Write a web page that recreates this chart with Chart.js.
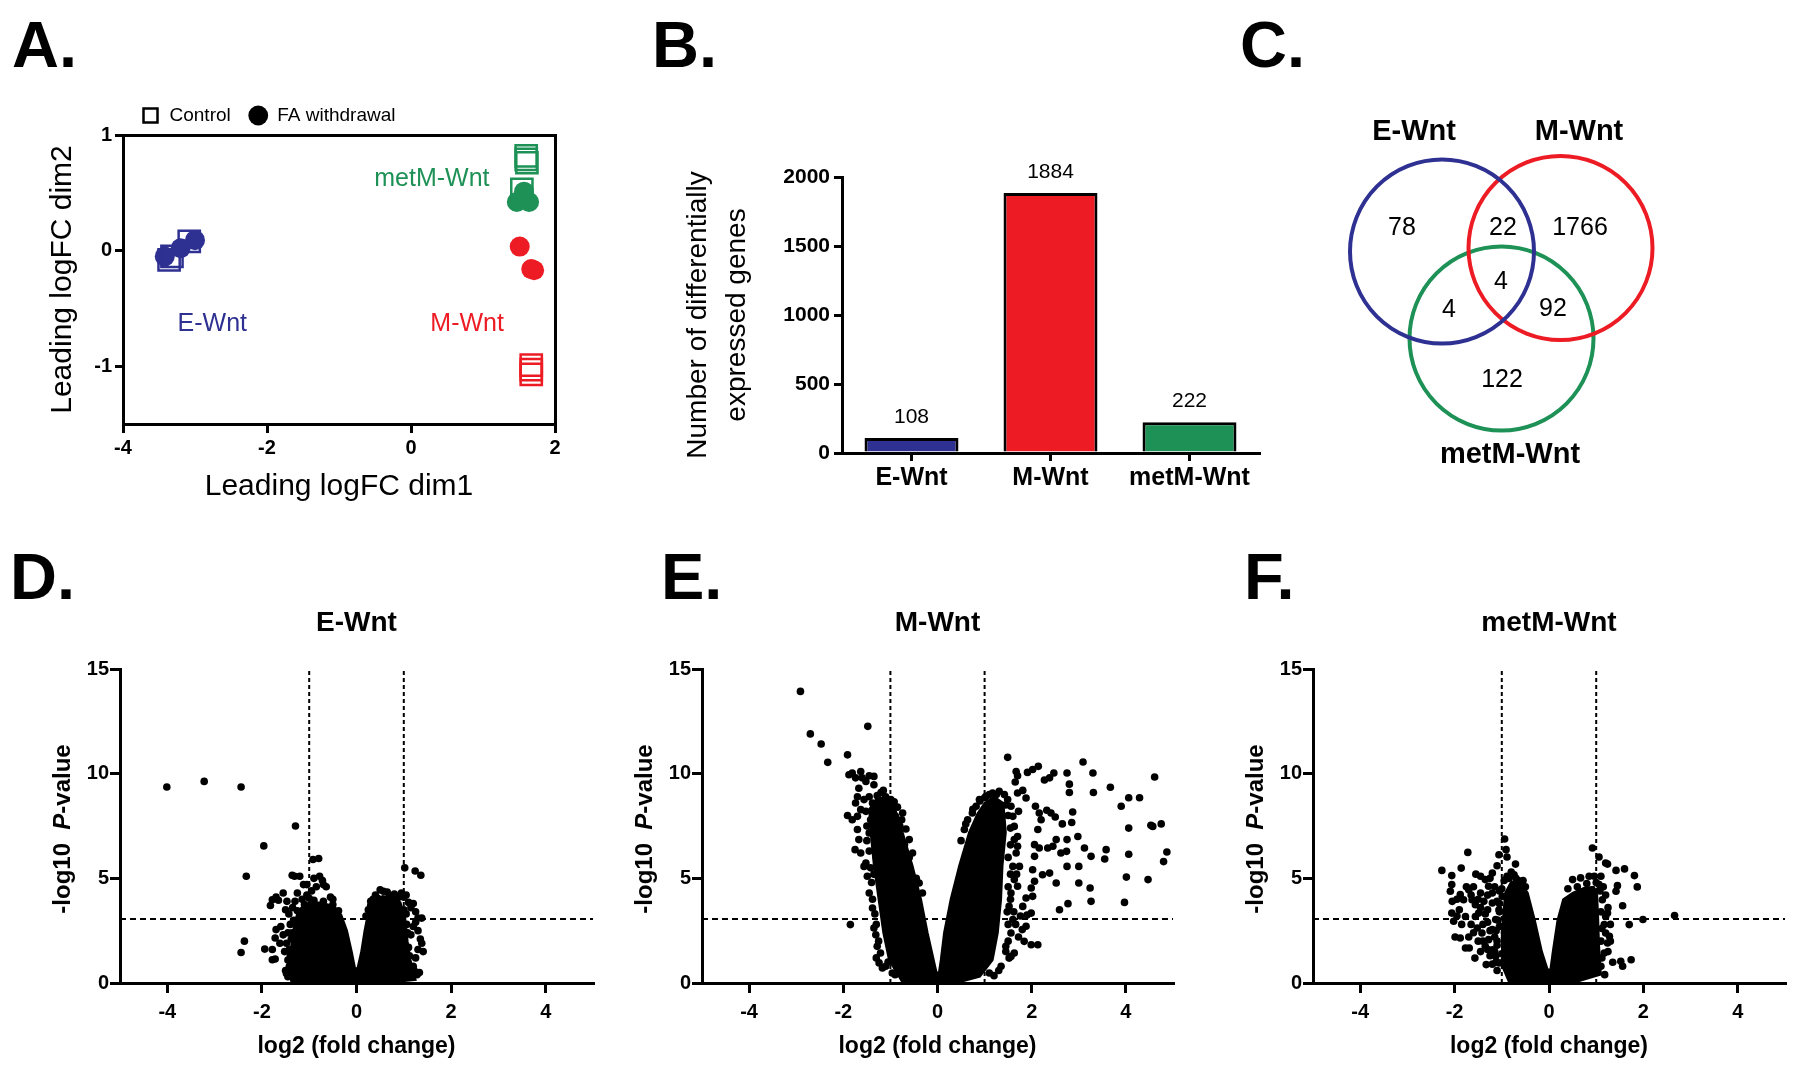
<!DOCTYPE html>
<html>
<head>
<meta charset="utf-8">
<title>Wnt groups: MDS, DEG counts, overlap and volcano plots</title>
<script src="https://cdn.jsdelivr.net/npm/chart.js@4.4.1/dist/chart.umd.min.js"></script>
<style>
  body { margin: 0; background: #fff; }
  #page { position: relative; width: 1800px; height: 1068px; overflow: hidden; background: #fff; }
  canvas { position: absolute; }
  .tag { position: absolute; font: bold 65px/65px "Liberation Sans", Arial, sans-serif; color: #000; }
</style>
</head>
<body>
<div id="page">
  <canvas id="mds" width="550" height="421" style="left:30px;top:88px"></canvas>
  <canvas id="deg" width="600" height="380" style="left:670px;top:120px"></canvas>
  <canvas id="venn" width="460" height="420" style="left:1300px;top:80px"></canvas>
  <canvas id="volE" width="580" height="455" style="left:30px;top:606px"></canvas>
  <canvas id="volM" width="578" height="455" style="left:612px;top:606px"></canvas>
  <canvas id="volMet" width="577" height="455" style="left:1223px;top:606px"></canvas>
  <div class="tag" style="left:12px;top:12px">A.</div>
  <div class="tag" style="left:652px;top:12px">B.</div>
  <div class="tag" style="left:1240px;top:12px">C.</div>
  <div class="tag" style="left:10px;top:544px">D.</div>
  <div class="tag" style="left:661px;top:544px">E.</div>
  <div class="tag" style="left:1244px;top:544px">F.</div>
</div>
<script>
// ---- data ----
// A: MDS plot, [dim1, dim2]
var mdsGroups = ['E-Wnt', 'M-Wnt', 'metM-Wnt'];
var eWntControl = [[-3.36, -0.08], [-3.32, -0.05], [-3.08, 0.08]];
var eWntFA = [[-3.42, -0.05], [-3.2, 0.02], [-3.0, 0.09]];
var mWntControl = [[1.67, -0.99], [1.67, -1.03], [1.67, -1.07]];
var mWntFA = [[1.51, 0.035], [1.67, -0.16], [1.71, -0.17]];
var metControl = [[1.6, 0.82], [1.6, 0.79], [1.61, 0.76], [1.54, 0.53]];
var metFA = [[1.47, 0.42], [1.64, 0.42], [1.57, 0.51]];
var mdsXTicks = [-4, -2, 0, 2];
var mdsYTicks = [-1, 0, 1];

// B: number of differentially expressed genes
var degCategories = ['E-Wnt', 'M-Wnt', 'metM-Wnt'];
var degCounts = [108, 1884, 222];
var degYTicks = [0, 500, 1000, 1500, 2000];

// C: overlap of the three gene lists
var vennSets = ['E-Wnt', 'M-Wnt', 'metM-Wnt'];
var vennRegions = ['E only', 'E+M', 'M only', 'E+M+metM', 'E+metM', 'M+metM', 'metM only'];
var vennCounts = [78, 22, 1766, 4, 4, 92, 122];

// D-F: volcano plots, [log2 fold change, -log10 P]
var volcanoXTicks = [-4, -2, 0, 2, 4];
var volcanoYTicks = [0, 5, 10, 15];
var fcCutoff = 1;
var pCutoff = 3.06;

// solid black mass of genes (outline of the dense cloud)
var eWntDense = [[-1.38,0.05],[-1.42,0.9],[-1.38,1.8],[-1.33,2.6],[-1.27,3.2],[-1.17,3.6],[-1.0,3.85],[-0.8,3.85],
  [-0.6,3.75],[-0.45,3.6],[-0.32,3.25],[-0.2,2.5],[-0.1,1.5],[-0.03,0.7],[0.02,0.7],[0.1,1.5],[0.17,2.5],[0.24,3.3],
  [0.35,3.85],[0.55,4.15],[0.75,4.1],[0.93,3.85],[1.03,3.1],[1.08,2.0],[1.15,1.0],[1.25,0.15],[0.6,0.0],[-0.6,0.0]];
var eWntPoints = [[-4.01,9.36],[-3.22,9.63],[-2.44,9.36],[-1.29,7.5],[-1.96,6.55],[-2.33,5.1],[-2.37,2.0],[-2.44,1.46],
  [-1.94,1.62],[-1.78,1.11],[-1.72,1.15],[-1.72,2.15],[-1.7,2.55],[-1.78,1.6],[-1.62,1.9],[-1.78,3.98],[-1.82,3.7],
  [-1.55,4.3],[-1.47,3.9],[-1.5,3.5],[-1.43,3.3],[-1.65,3.95],[-1.7,4.1],[-1.31,5.1],[-1.36,5.15],[-1.2,5.1],[-1.12,4.7],
  [-1.05,4.7],[-0.92,5.9],[-0.8,5.95],[-0.78,5.1],[-0.72,4.9],[-0.64,4.6],[-0.7,4.7],[-0.85,4.6],[-0.95,4.4],[-1.05,4.2],
  [-1.25,4.3],[-1.15,4.0],[-0.55,4.1],[-0.5,4.0],[-0.9,5.0],[-1.4,2.8],[-1.45,2.4],[-1.48,1.9],[-1.52,1.5],[-1.45,1.1],
  [-1.42,0.8],[-1.5,0.6],[-1.35,3.6],[-1.3,3.9],[-1.6,2.7],[-1.55,2.3],[-1.0,4.05],
  [-1.45,0.3],[-1.48,0.45],[-1.4,1.3],[-1.42,1.6],[-1.38,2.1],[-1.36,2.4],[-1.33,3.0],[-1.25,3.45],[-1.1,3.75],
  [-0.9,3.95],[-0.7,3.9],[-0.5,3.75],[-0.38,3.45],[-1.2,3.2],[-1.22,2.6],[-1.25,1.9],[-1.28,1.2],[-1.3,0.6],
  [1.02,5.5],[1.24,5.35],[1.36,5.15],[1.0,4.1],[1.05,4.2],[1.1,3.85],[1.15,3.6],[1.2,3.8],[1.25,3.4],[1.3,3.1],[1.38,3.1],
  [1.25,2.9],[1.3,2.5],[1.35,2.1],[1.38,1.9],[1.41,1.5],[1.3,1.6],[1.2,0.8],[1.25,1.2],[1.15,2.3],[1.2,2.7],[0.57,4.38],
  [0.5,4.45],[0.4,4.2],[0.35,4.0],[0.65,4.35],[0.8,4.25],[0.88,4.1],[0.95,4.3],[1.05,3.3],[0.3,3.7],[0.25,3.5],
  [1.28,0.4],[1.22,0.6],[1.12,1.3],[1.1,1.7],[1.08,2.4],[1.06,2.8],[1.0,3.5],[0.85,3.95],[0.7,4.15],[0.45,4.05],
  [0.3,3.9],[0.2,3.2],[1.15,0.3],[1.33,0.5]];

var mWntDense = [[-0.75,0.05],[-1.03,1.1],[-1.15,2.4],[-1.25,4.0],[-1.35,5.6],[-1.42,7.2],[-1.45,8.3],[-1.3,8.8],
  [-1.1,8.9],[-0.95,8.6],[-0.85,8.0],[-0.74,7.2],[-0.53,5.6],[-0.35,4.0],[-0.21,2.4],[-0.08,1.1],[-0.02,0.5],[0.03,0.5],
  [0.07,1.1],[0.14,2.4],[0.28,4.0],[0.46,5.6],[0.67,7.2],[0.85,8.1],[1.0,8.6],[1.2,8.9],[1.4,8.6],[1.45,7.2],[1.38,5.6],
  [1.35,4.0],[1.28,2.4],[1.17,1.1],[0.9,0.3],[0.4,0.0],[-0.4,0.0]];
var mWntPoints = [[-2.91,13.93],[-2.7,11.9],[-2.47,11.42],[-2.33,10.54],[-1.91,10.9],[-1.48,12.26],[-1.91,8.0],
  [-1.85,2.79],[-1.17,0.72],[-1.88,9.95],[-1.81,10.03],[-1.74,9.8],[-1.63,10.1],[-1.6,9.8],[-1.52,9.63],[-1.45,9.9],
  [-1.35,9.87],[-1.35,9.47],[-1.67,9.3],[-1.7,8.9],[-1.74,8.6],[-1.63,8.28],[-1.7,7.96],[-1.81,7.8],[-1.56,8.76],
  [-1.45,8.9],[-1.38,8.6],[-1.7,7.33],[-1.67,6.85],[-1.75,6.37],[-1.63,6.21],[-1.52,5.73],[-1.49,5.1],[-1.45,4.3],
  [-1.38,3.58],[-1.35,2.63],[-1.31,2.3],[-1.28,1.75],[-1.21,1.43],[-1.24,0.96],[-1.1,0.8],[-0.96,0.48],[-1.45,7.17],
  [-1.56,5.57],[-1.42,7.8],[-1.1,8.9],[-0.99,8.76],[-0.92,8.66],[-0.74,8.12],[-0.76,7.8],[-0.67,7.36],[-0.96,8.28],
  [-0.89,7.96],[-0.6,6.85],[-0.53,6.21],[-0.39,4.78],[-0.32,4.3],
  [-1.3,1.2],[-1.25,2.0],[-1.3,2.8],[-1.33,3.3],[-1.38,4.0],[-1.4,4.8],[-1.42,5.5],[-1.45,6.3],[-1.5,6.8],[-1.5,7.5],
  [-1.52,8.2],[-1.28,8.95],[-1.2,9.1],[-1.15,9.2],[-1.05,1.0],[-0.9,0.4],[-1.35,5.2],[-1.3,6.0],[-0.85,8.4],[-0.8,7.5],
  [-0.7,6.6],[-0.6,6.0],[-0.45,5.0],
  [0.57,7.33],[0.64,7.8],[0.74,8.12],[0.82,8.44],[0.89,8.76],[1.03,8.92],[1.17,9.08],[1.31,9.16],[1.42,9.0],[1.49,8.76],
  [1.56,8.44],[1.6,7.96],[1.63,7.48],[1.63,6.85],[1.67,6.21],[1.6,5.57],[1.63,4.94],[1.56,4.3],[1.52,3.66],[1.6,3.03],
  [1.56,2.39],[1.45,1.75],[1.52,1.19],[1.35,0.8],[1.1,0.48],
  [1.45,1.5],[1.5,2.0],[1.5,2.8],[1.48,3.4],[1.55,4.0],[1.5,4.6],[1.55,5.2],[1.5,6.0],[1.55,6.6],[1.55,7.4],[1.5,8.0],
  [1.45,8.5],[1.3,0.6],[1.2,0.35],[1.62,3.4],[1.68,5.2],[1.7,7.0],[1.72,8.2],[0.9,8.7],[1.0,8.85],[1.1,9.0],[1.25,9.0],
  [0.75,8.3],[0.6,7.6],[0.5,6.8],
  [1.49,10.78],[1.67,10.1],[1.7,9.9],[1.65,9.6],[1.81,9.2],[1.88,8.84],[1.7,9.08],[1.91,10.06],[2.02,10.2],[2.14,10.35],
  [2.27,9.7],[2.38,9.8],[2.47,10.03],[2.75,10.03],[2.8,9.5],[2.8,9.1],[3.09,10.56],[3.3,10.03],[3.31,9.1],[3.67,9.35],
  [3.9,8.44],[4.06,8.85],[4.29,8.85],[4.61,9.84],[4.57,7.48],[4.75,7.6],[4.06,7.4],[4.06,6.15],[4.01,5.06],[4.47,4.94],
  [3.97,3.85],[3.58,6.37],[3.55,5.92],[3.26,6.05],[3.24,4.54],[3.26,3.9],[3.12,6.45],[2.98,7.0],[3.0,5.57],[3.0,4.78],
  [2.87,8.17],[2.85,7.67],[2.75,6.85],[2.74,6.29],[2.75,5.57],[2.52,4.78],[2.59,3.5],[2.77,3.79],[2.62,6.21],[2.52,6.85],
  [2.65,7.6],[2.41,8.12],[2.5,7.93],[2.32,8.25],[2.16,8.12],[2.08,8.44],[2.2,7.8],[2.13,7.33],[2.06,6.61],[2.16,6.45],
  [2.34,6.45],[2.45,6.53],[2.06,6.05],[2.23,5.17],[2.38,5.25],[2.02,5.41],[2.06,4.86],[1.99,4.54],[2.02,4.14],[1.88,4.06],
  [1.99,3.34],[1.88,2.71],[1.81,3.66],[1.7,4.62],[1.74,5.57],[1.7,6.53],[1.99,1.83],[2.13,1.83],[1.84,1.99],[1.56,1.27],
  [1.63,1.43],[4.87,6.26],[4.8,5.8],[4.53,7.53],[1.72,2.2],[1.8,2.55],[1.76,3.2],[1.66,2.8],[1.9,3.25]];

var metDense = [[-0.85,0.05],[-0.99,0.8],[-1.0,2.4],[-0.93,4.3],[-0.8,4.85],[-0.6,4.8],[-0.45,4.3],[-0.3,3.0],
  [-0.15,1.5],[-0.03,0.65],[0.03,0.65],[0.08,1.5],[0.18,3.0],[0.3,4.0],[0.5,4.3],[0.75,4.55],[0.95,4.6],[1.02,4.2],
  [1.04,3.2],[1.06,1.8],[1.1,0.4],[0.5,0.0],[-0.5,0.0]];
var metPoints = [[-2.27,5.38],[-2.06,5.13],[-1.86,5.49],[-1.72,6.24],[-2.06,4.7],[-2.09,4.38],[-2.06,3.34],[-2.02,2.95],
  [-1.99,2.2],[-1.88,2.15],[-1.77,1.67],[-1.69,1.67],[-1.57,1.19],[-1.33,0.88],[-1.88,4.22],[-1.81,3.98],[-1.7,4.46],
  [-1.63,3.98],[-1.56,3.74],[-1.77,3.18],[-1.56,3.18],[-1.49,3.34],[-1.45,5.1],[-1.35,4.94],[-1.2,5.25],[-1.1,5.6],
  [-1.06,6.13],[-0.94,6.88],[-0.91,6.37],[-0.89,6.02],[-0.71,5.68],[-0.74,5.17],[-0.89,5.1],[-1.28,4.62],[-1.2,4.3],
  [-1.52,2.63],[-1.42,2.39],[-1.28,2.07],[-1.35,1.75],[-1.2,1.59],[-1.13,1.27],[-1.06,0.96],[-1.13,3.03],[-1.2,2.55],
  [-1.06,3.5],[-0.99,4.14],[-1.38,3.9],[-1.2,3.82],[-1.95,4.0],[-1.9,3.5],[-1.65,4.2],[-1.5,4.0],[-1.45,3.6],[-1.35,3.3],
  [-1.3,2.9],[-1.4,2.0],[-1.25,1.3],[-1.15,2.2],[-1.1,1.8],[-1.65,2.8],[-1.6,2.4],[-1.5,2.0],[-1.25,5.0],[-1.15,4.6],
  [-1.05,4.4],[-1.3,4.2],[-1.1,3.9],[-1.05,2.7],[-1.0,1.4],[-0.8,5.3],[-0.65,4.9],
  [-1.1,0.6],[-1.12,1.0],[-1.15,1.5],[-1.1,2.0],[-1.12,2.5],[-1.08,3.0],[-1.05,3.4],[-1.05,3.8],[-1.0,4.5],[-0.95,4.9],
  [-0.85,5.0],[-0.7,5.0],[-0.55,4.9],[-0.5,4.6],[-1.3,3.5],[-1.25,2.5],[-1.3,1.6],[-1.2,0.9],[-1.4,2.8],[-1.45,4.3],
  [-1.6,4.6],[-1.55,5.2],[-1.75,4.6],[-1.85,2.8],[-1.95,3.2],[-2.05,3.9],[-1.7,2.2],[-1.45,1.5],
  [0.92,6.45],[1.06,6.02],[1.2,5.73],[1.24,5.68],[1.42,5.38],[1.6,5.45],[1.81,5.13],[1.87,4.59],[1.45,4.65],[1.42,4.38],
  [1.56,3.69],[1.7,2.79],[1.99,3.03],[2.66,3.22],[1.35,0.99],[1.52,1.04],[1.56,0.8],[1.74,1.11],[1.2,2.39],[1.24,1.91],
  [1.17,1.43],[1.13,3.98],[1.24,3.34],[1.1,5.1],[0.96,5.1],[0.85,5.1],[0.67,5.02],[0.5,4.94],[1.06,4.7],[1.2,3.18],
  [1.17,2.79],[1.28,2.23],
  [1.1,0.8],[1.12,1.2],[1.1,2.0],[1.12,2.6],[1.1,3.4],[1.08,4.4],[1.0,4.8],[0.8,4.75],[0.6,4.6],[0.4,4.5],[1.15,4.6],
  [1.2,4.2],[1.25,3.6],[1.3,2.8],[1.3,2.0],[1.25,1.5],[1.18,0.4]];

// ---- styling ----
var FONT = '"Liberation Sans", Arial, Helvetica, sans-serif';
var groupColors = { 'E-Wnt': '#2e3192', 'M-Wnt': '#ed1c24', 'metM-Wnt': '#1d9156' };
Chart.defaults.font.family = FONT;
Chart.defaults.color = '#000';

function xy(list) {
  return list.map(function (p) { return { x: p[0], y: p[1] }; });
}
function fixedTicks(values) {
  return function (scale) { scale.ticks = values.map(function (v) { return { value: v }; }); };
}
function plainLabel(v) { return String(v); }

// text placed at data coordinates
var anchoredText = {
  id: 'anchoredText',
  afterDatasetsDraw: function (chart, args, opts) {
    var items = opts.items || [];
    var ctx = chart.ctx;
    for (var i = 0; i < items.length; i++) {
      var it = items[i];
      var px = chart.scales.x.getPixelForValue(it.x) + (it.dx || 0);
      var py = chart.scales.y.getPixelForValue(it.y) + (it.dy || 0);
      ctx.save();
      ctx.font = it.font;
      ctx.fillStyle = it.color || '#000';
      ctx.textAlign = 'center';
      ctx.textBaseline = 'middle';
      ctx.fillText(it.text, px, py);
      ctx.restore();
    }
  }
};

// rotated axis title with mixed fonts (italic P)
var sideTitle = {
  id: 'sideTitle',
  afterDraw: function (chart, args, opts) {
    if (!opts.parts) return;
    var ctx = chart.ctx, area = chart.chartArea;
    var parts = opts.parts;
    ctx.save();
    ctx.translate(area.left - opts.gap, (area.top + area.bottom) / 2 + (opts.shift || 0));
    ctx.rotate(-Math.PI / 2);
    ctx.textBaseline = 'middle';
    ctx.textAlign = 'left';
    ctx.fillStyle = '#000';
    var total = 0, i;
    for (i = 0; i < parts.length; i++) { ctx.font = parts[i].font; total += ctx.measureText(parts[i].text).width; }
    var x = -total / 2;
    for (i = 0; i < parts.length; i++) {
      ctx.font = parts[i].font;
      ctx.fillText(parts[i].text, x, 0);
      x += ctx.measureText(parts[i].text).width;
    }
    ctx.restore();
  }
};

var axisGrid = function (len) {
  return { drawOnChartArea: false, drawTicks: true, tickLength: len, lineWidth: 3, color: '#000' };
};
var axisBorder = { display: true, width: 3, color: '#000' };

// ---- A: MDS ----
function mdsSet(pts, group, control) {
  var c = groupColors[group];
  return control
    ? { label: group + ' control', data: xy(pts), pointStyle: 'rect', pointRadius: 15, backgroundColor: 'rgba(0,0,0,0)', borderColor: c, borderWidth: 2.5 }
    : { label: group + ' FA withdrawal', data: xy(pts), pointStyle: 'circle', pointRadius: 10, backgroundColor: c, borderColor: c, borderWidth: 0 };
}
new Chart(document.getElementById('mds'), {
  type: 'scatter',
  data: {
    datasets: [
      mdsSet(eWntControl, mdsGroups[0], true), mdsSet(eWntFA, mdsGroups[0], false),
      mdsSet(mWntControl, mdsGroups[1], true), mdsSet(mWntFA, mdsGroups[1], false),
      mdsSet(metControl, mdsGroups[2], true), mdsSet(metFA, mdsGroups[2], false)
    ]
  },
  plugins: [anchoredText],
  options: {
    responsive: false, animation: false, devicePixelRatio: 1,
    layout: { padding: { top: 0, right: 25, bottom: 0, left: 0 } },
    plugins: {
      tooltip: { enabled: false },
      legend: {
        display: true, position: 'top', align: 'start', fullSize: false,
        labels: {
          usePointStyle: true, boxHeight: 14, padding: 18, color: '#000', font: { size: 19 },
          generateLabels: function () {
            return [
              { text: 'Control', pointStyle: 'rect', fillStyle: 'rgba(0,0,0,0)', strokeStyle: '#000', lineWidth: 2.5, hidden: false },
              { text: 'FA withdrawal', pointStyle: 'circle', fillStyle: '#000', strokeStyle: '#000', lineWidth: 0, hidden: false }
            ];
          }
        }
      },
      anchoredText: {
        items: [
          { x: 0.29, y: 0.615, text: mdsGroups[2], color: groupColors[mdsGroups[2]], font: '25px ' + FONT },
          { x: -2.76, y: -0.64, text: mdsGroups[0], color: groupColors[mdsGroups[0]], font: '25px ' + FONT },
          { x: 0.78, y: -0.64, text: mdsGroups[1], color: groupColors[mdsGroups[1]], font: '25px ' + FONT }
        ]
      }
    },
    scales: {
      x: {
        type: 'linear', min: -4, max: 2, afterBuildTicks: fixedTicks(mdsXTicks),
        ticks: { font: { size: 20, weight: 'bold' }, padding: 3, callback: plainLabel },
        grid: axisGrid(9), border: axisBorder,
        title: { display: true, text: 'Leading logFC dim1', font: { size: 30 }, padding: { top: 0, bottom: 4 } },
        afterFit: function (s) { s.height = 85; }
      },
      y: {
        type: 'linear', min: -1.5, max: 1, afterBuildTicks: fixedTicks(mdsYTicks),
        ticks: { font: { size: 20, weight: 'bold' }, padding: 3, callback: plainLabel },
        grid: axisGrid(8), border: axisBorder,
        title: { display: true, text: 'Leading logFC dim2', font: { size: 30 }, padding: { top: 15, bottom: 0 } },
        afterFit: function (s) { s.width = 93; }
      },
      x2: {
        type: 'linear', position: 'top', min: -4, max: 2, ticks: { display: false }, grid: { display: false },
        border: axisBorder, afterFit: function (s) { s.height = 0; }
      },
      y2: {
        type: 'linear', position: 'right', min: -1.5, max: 1, ticks: { display: false }, grid: { display: false },
        border: axisBorder, afterFit: function (s) { s.width = 0; }
      }
    }
  }
});

// ---- B: DEG counts ----
new Chart(document.getElementById('deg'), {
  type: 'bar',
  data: {
    labels: degCategories,
    datasets: [{
      data: degCounts,
      backgroundColor: degCategories.map(function (c) { return groupColors[c]; }),
      borderColor: '#000', borderWidth: 3, barPercentage: 0.676, categoryPercentage: 1
    }]
  },
  plugins: [anchoredText],
  options: {
    responsive: false, animation: false, devicePixelRatio: 1,
    layout: { padding: { top: 57, right: 11, bottom: 0, left: 0 } },
    plugins: {
      legend: { display: false }, tooltip: { enabled: false },
      anchoredText: {
        items: degCounts.map(function (v, i) {
          return { x: i, y: v, dy: -21, text: String(v), font: '21px ' + FONT };
        })
      }
    },
    scales: {
      x: {
        grid: { offset: false, drawOnChartArea: false, drawTicks: true, tickLength: 8, lineWidth: 3, color: '#000' },
        border: axisBorder,
        ticks: { font: { size: 25, weight: 'bold' }, padding: 2 },
        afterFit: function (s) { s.height = 47; }
      },
      y: {
        min: 0, max: 2000, afterBuildTicks: fixedTicks(degYTicks),
        ticks: { font: { size: 21, weight: 'bold' }, padding: 4, callback: plainLabel },
        grid: axisGrid(8), border: axisBorder,
        title: {
          display: true, text: ['Number of differentially', 'expressed genes'],
          font: { size: 28, lineHeight: 1.39 }, padding: { top: 8.5, bottom: 0 }
        },
        afterFit: function (s) { s.width = 172; }
      }
    }
  }
});

// ---- C: Venn diagram (canvas pixel units, y downwards) ----
var vennLayout = {
  centers: [[142, 171.5], [260.5, 168], [201.5, 258.5]],
  radius: 92,
  regionAt: [[102, 148], [203, 148], [280, 148], [201, 202], [149, 230], [253, 229], [202, 300]],
  nameAt: [[114, 52], [279, 52], [210, 375]]
};
new Chart(document.getElementById('venn'), {
  type: 'bubble',
  data: {
    datasets: vennSets.map(function (s, i) {
      return {
        label: s,
        data: [{ x: vennLayout.centers[i][0], y: vennLayout.centers[i][1], r: vennLayout.radius }],
        backgroundColor: 'rgba(0,0,0,0)', borderColor: groupColors[s], borderWidth: 4, clip: false
      };
    })
  },
  plugins: [anchoredText],
  options: {
    responsive: false, animation: false, devicePixelRatio: 1,
    layout: { padding: 0, autoPadding: false },
    plugins: {
      legend: { display: false }, tooltip: { enabled: false },
      anchoredText: {
        items: vennCounts.map(function (n, i) {
          return { x: vennLayout.regionAt[i][0], y: vennLayout.regionAt[i][1], text: String(n), font: '25px ' + FONT };
        }).concat(vennSets.map(function (s, i) {
          return { x: vennLayout.nameAt[i][0], y: vennLayout.nameAt[i][1], text: s, font: 'bold 29px ' + FONT };
        }))
      }
    },
    scales: {
      x: { display: false, min: 0, max: 460 },
      y: { display: false, min: 0, max: 420, reverse: true }
    }
  }
});

// ---- D-F: volcano plots ----
function cutLine(pts, dash) {
  return { type: 'line', data: pts, borderColor: '#000', borderWidth: 2, borderDash: dash, pointRadius: 0, fill: false, order: 3 };
}
function volcano(id, title, points, dense) {
  var xMin = -5, xMax = 5, yMax = volcanoYTicks[volcanoYTicks.length - 1];
  new Chart(document.getElementById(id), {
    type: 'scatter',
    data: {
      datasets: [
        { data: xy(points), pointRadius: 3.8, backgroundColor: '#000', borderColor: '#000', borderWidth: 0, order: 1 },
        { type: 'line', data: xy(dense), fill: 'shape', backgroundColor: '#000', borderColor: '#000', borderWidth: 2, pointRadius: 0, order: 2 },
        cutLine([{ x: -fcCutoff, y: 0 }, { x: -fcCutoff, y: yMax }], [4, 3]),
        cutLine([{ x: fcCutoff, y: 0 }, { x: fcCutoff, y: yMax }], [4, 3]),
        cutLine([{ x: xMin, y: pCutoff }, { x: xMax, y: pCutoff }], [6, 4])
      ]
    },
    plugins: [sideTitle],
    options: {
      responsive: false, animation: false, devicePixelRatio: 1,
      layout: { padding: { top: 0, right: id === 'volMet' ? 15 : 17, bottom: 0, left: 0 } },
      plugins: {
        legend: { display: false }, tooltip: { enabled: false },
        title: { display: true, text: title, fullSize: false, color: '#000', font: { size: 28, weight: 'bold' }, padding: { top: 0, bottom: 29.4 } },
        sideTitle: {
          gap: 57, shift: 3,
          parts: [
            { text: '-log10  ', font: 'bold 24px ' + FONT },
            { text: 'P', font: 'italic bold 24px ' + FONT },
            { text: '-value', font: 'bold 24px ' + FONT }
          ]
        }
      },
      scales: {
        x: {
          type: 'linear', min: xMin, max: xMax, afterBuildTicks: fixedTicks(volcanoXTicks),
          ticks: { font: { size: 20, weight: 'bold' }, padding: 7, callback: plainLabel },
          grid: axisGrid(10), border: axisBorder,
          title: { display: true, text: 'log2 (fold change)', font: { size: 23, weight: 'bold' }, padding: { top: 0, bottom: 1 } },
          afterFit: function (s) { s.height = 78; }
        },
        y: {
          type: 'linear', min: 0, max: yMax, afterBuildTicks: fixedTicks(volcanoYTicks),
          ticks: { font: { size: 20, weight: 'bold' }, padding: 1, callback: plainLabel },
          grid: axisGrid(10), border: axisBorder,
          afterFit: function (s) { s.width = 90; }
        }
      }
    }
  });
}
volcano('volE', 'E-Wnt', eWntPoints, eWntDense);
volcano('volM', 'M-Wnt', mWntPoints, mWntDense);
volcano('volMet', 'metM-Wnt', metPoints, metDense);
</script>
</body>
</html>
